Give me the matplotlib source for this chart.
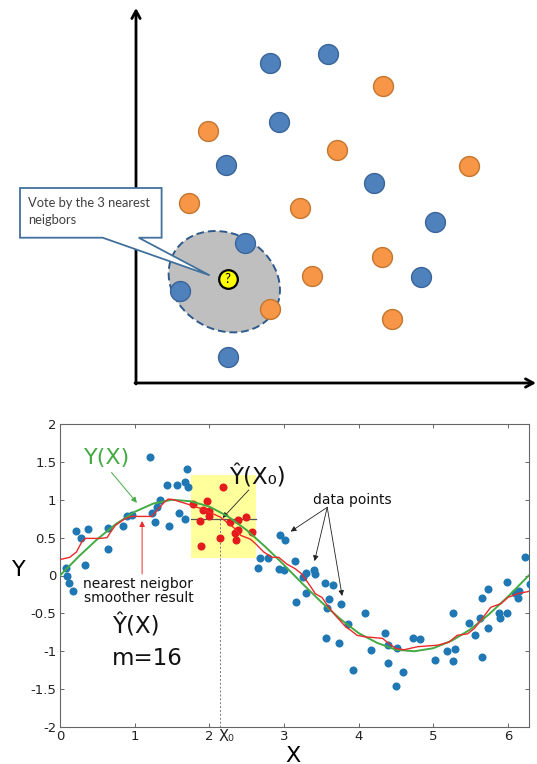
import matplotlib
matplotlib.use('Agg')
import matplotlib.pyplot as plt
from matplotlib.patches import Ellipse, Polygon, Rectangle
import matplotlib.transforms as mtransforms

plt.rcParams['axes.unicode_minus'] = False
plt.rcParams['font.family'] = ['DejaVu Sans']

# ---------------- top diagram data (pixel-like diagram units) ----------------
blue_x = [269.5, 327.7, 278.8, 226.4, 374.0, 435.0, 244.5, 180.1, 420.5, 228.4]
blue_y = [63.3, 54.3, 122.3, 165.3, 183.3, 221.7, 243.3, 291.0, 277.3, 357.3]
orange_x = [382.9, 207.9, 337.3, 469.2, 189.4, 300.3, 381.8, 312.3, 269.5, 391.8]
orange_y = [86.0, 131.3, 150.0, 166.3, 202.7, 208.3, 257.0, 275.7, 309.3, 318.7]
query_xy = (227.7, 278.7)
callout_text = "Vote by the 3 nearest\nneigbors"

# ---------------- bottom chart data ----------------
data_x = [0.08, 0.10, 0.125, 0.18, 0.22, 0.28, 0.34, 0.38, 0.64, 0.64, 0.85, 0.895, 0.96,
          1.20, 1.23, 1.275, 1.30, 1.34, 1.43, 1.46, 1.57, 1.59, 1.67, 1.67, 1.70, 1.72,
          2.65, 2.68, 2.78, 2.93, 2.95, 3.00, 3.01, 3.15, 3.16, 3.25, 3.29, 3.29, 3.40, 3.41,
          3.55, 3.57, 3.58, 3.61, 3.66, 3.74, 3.77, 3.86, 3.93, 4.08, 4.16, 4.35, 4.39, 4.40,
          4.50, 4.51, 4.59, 4.73, 4.82, 5.02, 5.18, 5.26, 5.27, 5.29, 5.48, 5.56, 5.63, 5.65,
          5.66, 5.73, 5.73, 5.875, 5.90, 5.99, 5.99, 6.09, 6.13, 6.15, 6.23, 6.29]
data_y = [0.10, -0.01, -0.10, -0.21, 0.59, 0.50, 0.14, 0.61, 0.63, 0.35, 0.66, 0.78, 0.80,
          1.57, 0.83, 0.70, 0.90, 1.00, 1.20, 0.66, 1.20, 0.83, 1.23, 0.75, 1.41, 1.17,
          0.10, 0.23, 0.23, 0.09, 0.54, 0.07, 0.47, 0.19, -0.35, -0.02, 0.03, -0.23, 0.075, 0.02,
          -0.10, -0.83, -0.43, -0.31, -0.12, -0.89, -0.37, -0.645, -1.25, -0.49, -0.99, -0.76, -1.16, -0.92,
          -1.46, -0.96, -1.28, -0.83, -0.84, -1.11, -1.00, -0.50, -1.13, -0.965, -0.63, -0.78, -0.56, -1.08,
          -0.30, -0.69, -0.18, -0.50, -0.56, -0.50, -0.08, -0.23, -0.30, -0.20, 0.25, -0.11]

nbr_x = [1.78, 1.97, 1.91, 1.99, 1.995, 1.88, 1.89, 2.18, 2.15, 2.28, 2.38, 2.49, 2.39, 2.34, 2.36, 2.57]
nbr_y = [0.95, 0.98, 0.86, 0.855, 0.78, 0.72, 0.39, 1.17, 0.50, 0.70, 0.73, 0.77, 0.60, 0.56, 0.47, 0.57]

true_x = [0, 0.25, 0.5, 0.75, 1.0, 1.25, 1.5, 1.75, 2.0, 2.25, 2.5, 2.75, 3.0, 3.25, 3.5,
          3.75, 4.0, 4.25, 4.5, 4.75, 5.0, 5.25, 5.5, 5.75, 6.0, 6.28]
true_y = [0.00, 0.25, 0.48, 0.68, 0.84, 0.95, 1.00, 0.98, 0.91, 0.78, 0.60, 0.38, 0.14, -0.11, -0.35,
          -0.57, -0.76, -0.89, -0.98, -1.00, -0.96, -0.86, -0.71, -0.51, -0.28, 0.00]

knn_x = [0, 0.13, 0.22, 0.29, 0.34, 0.54, 0.63, 0.69, 0.74, 0.87, 0.96, 1.23, 1.30, 1.39, 1.45,
         1.52, 1.75, 1.90, 2.06, 2.15, 2.24, 2.33, 2.42, 2.55, 2.62, 2.73, 2.84, 2.93, 3.04, 3.15,
         3.24, 3.36, 3.42, 3.51, 3.60, 3.71, 3.83, 3.89, 3.98, 4.09, 4.21, 4.32, 4.41, 4.50, 4.61,
         4.79, 5.06, 5.21, 5.32, 5.46, 5.55, 5.64, 5.77, 5.91, 6.00, 6.13, 6.28]
knn_y = [0.21, 0.24, 0.31, 0.44, 0.49, 0.49, 0.50, 0.59, 0.66, 0.75, 0.78, 0.78, 0.86, 0.96, 1.01,
         1.00, 0.93, 0.88, 0.81, 0.77, 0.70, 0.63, 0.53, 0.48, 0.42, 0.31, 0.24, 0.24, 0.15, 0.09,
         0.02, -0.15, -0.24, -0.29, -0.42, -0.55, -0.68, -0.72, -0.79, -0.81, -0.82, -0.83, -0.90, -0.965, -0.98,
         -0.94, -0.92, -0.88, -0.79, -0.77, -0.70, -0.59, -0.42, -0.37, -0.29, -0.24, -0.21]

x0 = 2.15
y0_hat = 0.75
window = (1.75, 2.63, 0.23, 1.33)

xticks = [0, 1, 2, 3, 4, 5, 6]
xticklabels = ['0', '1', '2', '3', '4', '5', '6']
yticks = [-2, -1.5, -1, -0.5, 0, 0.5, 1, 1.5, 2]
yticklabels = ['-2', '-1.5', '-1', '-0.5', '0', '0.5', '1', '1.5', '2']

W, H = 537, 764
fig = plt.figure(figsize=(W / 100, H / 100), dpi=100)

# ---------------- top diagram ----------------
axt = fig.add_axes([0, 0, 1, 1])
axt.set_xlim(0, W)
axt.set_ylim(H, 0)
axt.axis('off')

arrow_kw = dict(arrowstyle='->,head_length=0.55,head_width=0.3', lw=2.0, color='black',
                shrinkA=0, shrinkB=0)
axt.annotate('', xy=(136, 8), xytext=(136, 384), arrowprops=arrow_kw, zorder=1)
axt.annotate('', xy=(536, 383), xytext=(135, 383), arrowprops=arrow_kw, zorder=1)

ell = Ellipse(xy=(224.3, 281.7), width=116, height=96, angle=30,
              facecolor='#bfbfbf', edgecolor='#2f5a8c', lw=1.4, linestyle=(0, (4, 2)), zorder=2)
axt.add_patch(ell)

callout = Polygon([(20, 188), (161.6, 188), (161.6, 237.7), (138.7, 237.7), (209.6, 275.3),
                   (102.7, 237.7), (20, 237.7)], closed=True,
                  facecolor='white', edgecolor='#41719c', lw=1.3, zorder=3)
axt.add_patch(callout)
axt.text(28, 197, callout_text, fontsize=9.3, family=['Lato', 'DejaVu Sans'], color='#404040',
         ha='left', va='top', linespacing=1.45, zorder=4)

axt.scatter(blue_x, blue_y, s=205, facecolor='#4f81bd', edgecolor='#3a659a', lw=1.0, zorder=5)
axt.scatter(orange_x, orange_y, s=205, facecolor='#f79646', edgecolor='#c4752f', lw=1.0, zorder=5)
axt.scatter([query_xy[0]], [query_xy[1]], s=180, facecolor='#ffff00', edgecolor='black', lw=1.6, zorder=6)
axt.text(query_xy[0], query_xy[1] + 0.5, '?', fontsize=9.5, ha='center', va='center',
         family=['Lato', 'DejaVu Sans'], zorder=7)

# ---------------- bottom chart ----------------
ax = fig.add_axes([60 / W, 1 - 727 / H, 469 / W, 303 / H])
ax.set_xlim(0, 6.2832)
ax.set_ylim(-2, 2)

ax.add_patch(Rectangle((window[0], window[2]), window[1] - window[0], window[3] - window[2],
                       facecolor='#ffff9c', edgecolor='none', zorder=1))
ax.plot([window[0], window[1]], [y0_hat, y0_hat], color='#555555', lw=0.9, zorder=2)
ax.plot([x0, x0], [-2, y0_hat], color='#777777', lw=0.7, ls=(0, (2, 2)), zorder=2)

ax.plot(data_x, data_y, 'o', ms=5.8, color='#1f78b4', mec='none', zorder=3)
ax.plot(nbr_x, nbr_y, 'o', ms=5.8, color='#e41a1c', mec='none', zorder=3)
ax.plot(true_x, true_y, color='#44aa44', lw=1.4, zorder=4)
ax.plot(knn_x, knn_y, color='#ea2a2a', lw=1.0, zorder=4)

for sp in ax.spines.values():
    sp.set_color('#666666')
    sp.set_linewidth(0.8)
ax.set_xticks(xticks)
ax.set_xticklabels(xticklabels)
ax.set_yticks(yticks)
ax.set_yticklabels(yticklabels)
ax.tick_params(direction='in', length=3, width=0.7, color='#666666', labelcolor='#222222',
               labelsize=9.5, top=True, right=True, pad=2.5)

trans = mtransforms.blended_transform_factory(ax.transData, ax.transAxes)
ax.text(2.23, -0.008, 'X₀', transform=trans, fontsize=10.5, color='#222222', ha='center', va='top')

# annotations
ax.text(0.63, 1.55, 'Y(X)', color='#44aa44', fontsize=16, ha='center', va='center')
ax.annotate('', xy=(1.03, 0.96), xytext=(0.69, 1.36),
            arrowprops=dict(arrowstyle='-|>', color='#44aa44', lw=0.7, mutation_scale=8,
                            shrinkA=0, shrinkB=0))
ax.text(1.05, -0.21, 'nearest neigbor\nsmoother result', fontsize=10, ha='center', va='center',
        linespacing=1.0, color='#111111')
ax.annotate('', xy=(1.10, 0.72), xytext=(1.10, 0.02),
            arrowprops=dict(arrowstyle='-|>', color='#ea2a2a', lw=0.7, mutation_scale=8,
                            shrinkA=0, shrinkB=0))
ax.text(0.70, -0.67, 'Ŷ(X)', fontsize=16.5, ha='left', va='center', color='#111111')
ax.text(0.70, -1.09, 'm=16', fontsize=16.5, ha='left', va='center', color='#111111')
ax.text(2.27, 1.29, 'Ŷ(X₀)', fontsize=16.5, ha='left', va='center', color='#111111')
ax.annotate('', xy=(2.18, 0.76), xytext=(2.53, 1.13),
            arrowprops=dict(arrowstyle='-|>', color='#222222', lw=0.6, mutation_scale=8,
                            shrinkA=0, shrinkB=0))
ax.text(3.91, 1.0, 'data points', fontsize=10, ha='center', va='center', color='#111111')
for tx, ty in [(3.09, 0.58), (3.41, 0.19), (3.78, -0.27)]:
    ax.annotate('', xy=(tx, ty), xytext=(3.58, 0.90),
                arrowprops=dict(arrowstyle='-|>', color='#222222', lw=0.6, mutation_scale=8,
                                shrinkA=0, shrinkB=0))

fig.text(19 / W, 1 - 570 / H, 'Y', fontsize=16, ha='center', va='center')
fig.text(293 / W, 1 - 761.5 / H, 'X', fontsize=16, ha='center', va='baseline')

fig.savefig('out.png', dpi=100)
